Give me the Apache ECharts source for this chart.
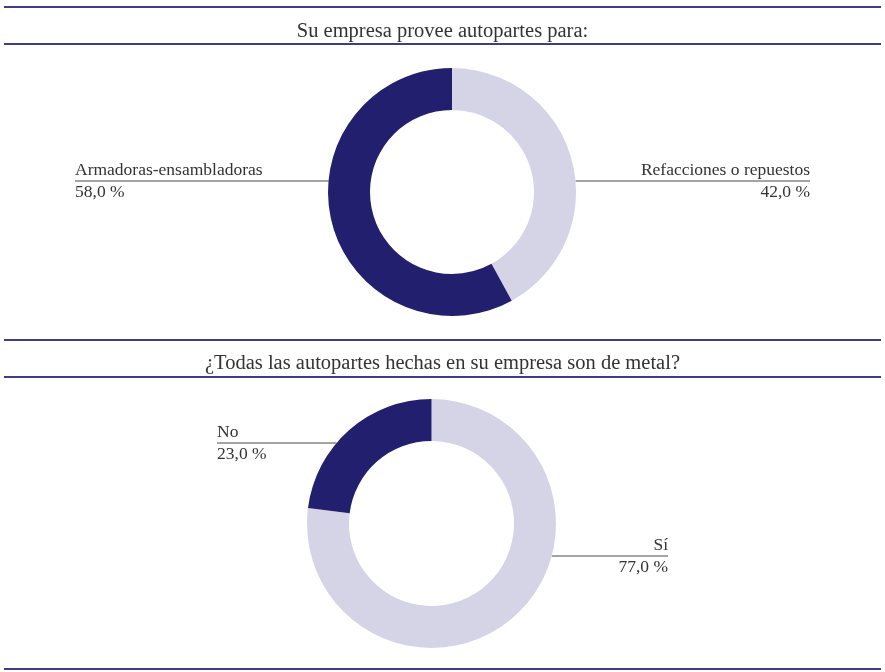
<!DOCTYPE html>
<html><head><meta charset="utf-8">
<script src="https://cdn.jsdelivr.net/npm/echarts@6/dist/echarts.min.js"></script>
<style>html,body{margin:0;padding:0;background:#fff}#c{width:885px;height:672px}</style>
</head><body><div id="c"></div>
<script>
const titles = ['Su empresa provee autopartes para:', '¿Todas las autopartes hechas en su empresa son de metal?'];
const chart1Categories = ['Refacciones o repuestos', 'Armadoras-ensambladoras'];
const chart1Values = [42.0, 58.0];
const chart2Categories = ['Sí', 'No'];
const chart2Values = [77.0, 23.0];

const DARK = '#231f6f', LIGHT = '#d5d4e7', RULE = '#403c88', TEXT = '#333333';
const FONT = '"Liberation Serif", "DejaVu Serif", serif';
const pies = [
  {cx: 452, cy: 192, r0: 82, r: 124, colors: [LIGHT, DARK],
   labels: [{x: 810, y: 181, align: 'right', side: 1}, {x: 75, y: 181, align: 'left', side: -1}]},
  {cx: 431.5, cy: 523.5, r0: 82.5, r: 124.5, colors: [LIGHT, DARK],
   labels: [{x: 668, y: 556, align: 'right', side: 1}, {x: 217, y: 443, align: 'left', side: -1}]}
];
const cats = [chart1Categories, chart2Categories];
const vals = [chart1Values, chart2Values];

function fmtPct(v) { return v.toFixed(1).replace('.', ',') + ' %'; }

const series = pies.map((p, si) => ({
  type: 'pie',
  center: [p.cx, p.cy],
  radius: [p.r0, p.r],
  startAngle: 90,
  clockwise: true,
  avoidLabelOverlap: false,
  silent: true,
  emphasis: {disabled: true},
  data: cats[si].map((n, i) => ({
    name: n, value: vals[si][i],
    itemStyle: {color: p.colors[i]},
    label: {align: p.labels[i].align}
  })),
  label: {
    show: true,
    position: 'outside',
    fontFamily: FONT,
    color: TEXT,
    formatter: (prm) => `{n|${prm.name}}\n{v|${fmtPct(prm.value)}}`,
    rich: {
      n: {fontFamily: FONT, fontSize: 17.5, color: TEXT, lineHeight: 22},
      v: {fontFamily: FONT, fontSize: 17.5, color: TEXT, lineHeight: 22}
    }
  },
  labelLine: {show: true, length: 10, length2: 10, lineStyle: {color: '#4a4a4a', width: 1.2}},
  labelLayout: (prm) => {
    const L = p.labels[prm.dataIndex];
    const dy = L.y - p.cy;
    const edge = p.cx + L.side * Math.sqrt(p.r * p.r - dy * dy);
    return {
      x: L.x, y: L.y, align: L.align, verticalAlign: 'middle',
      labelLinePoints: [[edge, L.y], [(edge + L.x) / 2, L.y], [L.x, L.y]]
    };
  }
}));

const ruleYs = [7, 44, 340, 377, 669];
const chart = echarts.init(document.getElementById('c'), null, {renderer: 'canvas'});
chart.setOption({
  animation: false,
  backgroundColor: '#ffffff',
  title: [
    {text: titles[0], left: 'center', top: 16, textStyle: {fontFamily: FONT, fontSize: 20.5, fontWeight: 'normal', color: TEXT}},
    {text: titles[1], left: 'center', top: 348, textStyle: {fontFamily: FONT, fontSize: 20.5, fontWeight: 'normal', color: TEXT}}
  ],
  graphic: ruleYs.map(y => ({
    type: 'line', silent: true,
    shape: {x1: 4, y1: y, x2: 881, y2: y},
    style: {stroke: RULE, lineWidth: 2}
  })),
  series: series
});
</script></body></html>
